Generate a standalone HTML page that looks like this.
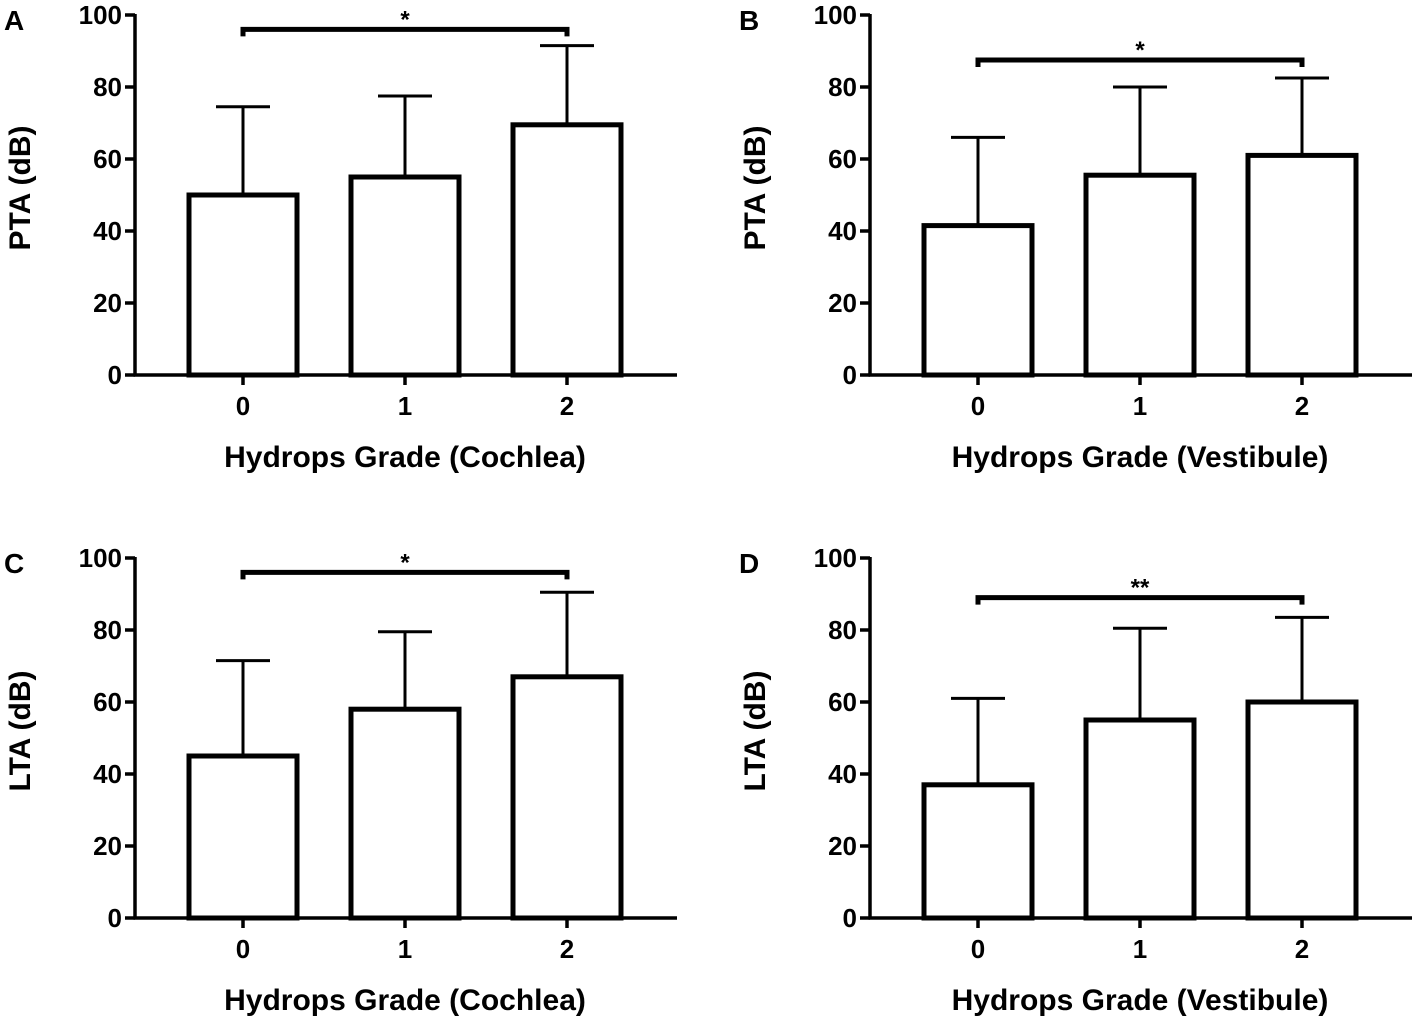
<!DOCTYPE html>
<html><head><meta charset="utf-8"><style>
body{margin:0;background:#fff;width:1417px;height:1020px;overflow:hidden}
svg text{font-family:"Liberation Sans",Arial,sans-serif;font-weight:bold;fill:#000}
</style></head><body>
<svg id="fig" width="1417" height="1020" xmlns="http://www.w3.org/2000/svg"></svg>
<script>
const categories = ["0","1","2"];
const yTicks = [0,20,40,60,80,100];
const meansA = [50,55,69.5];  const errA = [74.5,77.5,91.5];
const meansB = [41.5,55.5,61]; const errB = [66,80,82.5];
const meansC = [45,58,67];    const errC = [71.5,79.5,90.5];
const meansD = [37,55,60];    const errD = [61,80.5,83.5];
const sigLevels = [96,87.5,96,89];
const sigMarks = ["*","*","*","**"];
const letters = ["A","B","C","D"];
const yTitles = ["PTA (dB)","PTA (dB)","LTA (dB)","LTA (dB)"];
const xTitles = ["Hydrops Grade (Cochlea)","Hydrops Grade (Vestibule)","Hydrops Grade (Cochlea)","Hydrops Grade (Vestibule)"];
const allMeans=[meansA,meansB,meansC,meansD], allErr=[errA,errB,errC,errD];
const NS="http://www.w3.org/2000/svg", svg=document.getElementById('fig');
function mk(t,a,p,txt){const e=document.createElementNS(NS,t);for(const k in a)e.setAttribute(k,a[k]);if(txt!==undefined)e.textContent=txt;p.appendChild(e);return e;}
const layouts=[{ax:135,y0:375},{ax:870,y0:375},{ax:135,y0:918},{ax:870,y0:918}];
layouts.forEach((L,i)=>{
  const g=mk('g',{},svg);
  
  
  const ys=v=>L.y0-v*3.6;
  const xs=k=>L.ax+108+k*162;
  const line=(x1,y1,x2,y2,w)=>mk('line',{x1,y1,x2,y2,stroke:'#000','stroke-width':w},g);
  const ya=line(L.ax,ys(100)-1,L.ax,ys(0)+1.5,3.5);
  
  const xa=line(L.ax-1.5,ys(0),L.ax+542,ys(0),3.5);
  
  yTicks.forEach(t=>{line(L.ax-10,ys(t),L.ax,ys(t),3.5);
    const tx=mk('text',{x:L.ax-13,y:ys(t)+9,'text-anchor':'end','font-size':26},g,t);
    });
  categories.forEach((c,k)=>{
    line(xs(k),ys(0),xs(k),ys(0)+10,3.5);
    const tx=mk('text',{x:xs(k),y:ys(0)+40,'text-anchor':'middle','font-size':26},g,c);
    
    const m=allMeans[i][k],e=allErr[i][k];
    const eb=line(xs(k),ys(e),xs(k),ys(m),3);
    
    line(xs(k)-27,ys(e),xs(k)+27,ys(e),3);
    const b=mk('rect',{x:xs(k)-54,y:ys(m),width:108,height:ys(0)-ys(m),fill:'#fff',stroke:'#000','stroke-width':5},g);
    
  });
  const s=sigLevels[i];
  const br=mk('path',{d:`M${xs(0)},${ys(s)+7}V${ys(s)}H${xs(2)}V${ys(s)+7}`,fill:'none',stroke:'#000','stroke-width':5},g);
  
  const st=mk('text',{x:(xs(0)+xs(2))/2,y:ys(s)-2,'text-anchor':'middle','font-size':24},g,sigMarks[i]);
  
  const lt=mk('text',{x:L.ax-131,y:ys(100)+15,'font-size':28},g,letters[i]);
  
  const yt=mk('text',{x:0,y:0,'text-anchor':'middle','font-size':30,transform:`translate(${L.ax-105},${ys(50)-7}) rotate(-90)`},g,yTitles[i]);
  
  const xt=mk('text',{x:xs(1),y:ys(0)+92,'text-anchor':'middle','font-size':30},g,xTitles[i]);
  
});
</script>
</body></html>
